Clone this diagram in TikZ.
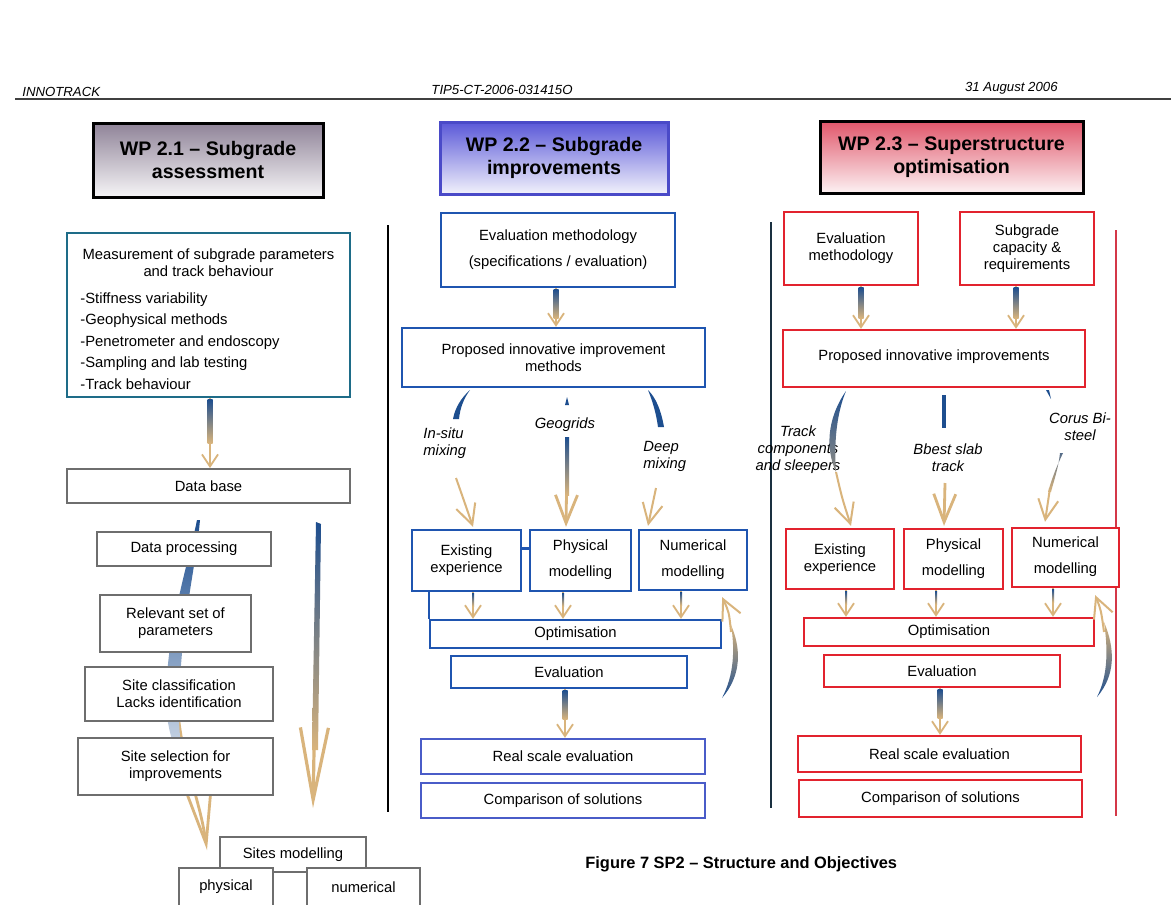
\documentclass[tikz,border=0pt]{standalone}
\usepackage{fontspec}
\setmainfont{Liberation Sans}
\usetikzlibrary{arrows.meta,calc}
\pgfdeclarelayer{bg}
\pgfsetlayers{bg,main}
\definecolor{navyb}{HTML}{1D4E8F}
\definecolor{tanc}{HTML}{D9B47C}
\definecolor{tealb}{HTML}{1E6C88}
\definecolor{grayb}{HTML}{6E6E6E}
\definecolor{blueb}{HTML}{1F55B0}
\definecolor{lblueb}{HTML}{4A5CC8}
\definecolor{t22bd}{HTML}{4A4AC8}
\definecolor{redb}{HTML}{E2232E}
\definecolor{redl}{HTML}{D43848}
\definecolor{sepd}{HTML}{1A3040}
\definecolor{t21top}{HTML}{8F8398}
\definecolor{t22top}{HTML}{5A58D8}
\definecolor{t23top}{HTML}{E0566A}
\newcommand\varrow[5]{%
  \coordinate (va) at ($(#1)+(#2,0)$);
  \coordinate (vb) at (va |- #3);
  \draw[conn] (va) -- (vb);
  \shade[top color=navyb, bottom color=tanc] ($(va)+(-#5,1)$) rectangle ($(va)+(#5,#4)$);
}
\newcommand\rb[2]{\raisebox{#1}{\begin{tabular}{@{}c@{}}#2\end{tabular}}}
\begin{document}
\begin{tikzpicture}[x=0.5pt,y=-0.5pt,
 body/.style={font=\fontsize{7.4}{8.5}\selectfont},
 box/.style={body, draw, line width=1pt, fill=white, inner sep=1pt, align=center},
 gbox/.style={box, draw=grayb},
 bbox/.style={box, draw=blueb, line width=1.2pt},
 lbox/.style={box, draw=lblueb, line width=1.2pt},
 rbox/.style={box, draw=redb, line width=1.2pt},
 title/.style={line width=1.5pt, font=\bfseries\fontsize{9.8}{11.5}\selectfont, align=center, inner sep=1pt},
 lab/.style={font=\itshape\fontsize{7.4}{8.5}\selectfont, align=center, inner sep=0pt},
 hdr/.style={font=\itshape\fontsize{6.6}{8}\selectfont, inner sep=0pt},
 conn/.style={draw=tanc, line width=0.9pt, -{Straight Barb[length=6pt,width=8pt]}},
 conn2/.style={draw=tanc, line width=1pt, -{Straight Barb[length=10pt,width=10pt]}},
 bigconn2/.style={draw=tanc, line width=1.4pt, -{Straight Barb[length=14pt,width=11pt]}},
 hugeconn/.style={draw=tanc, line width=1.6pt, -{Straight Barb[length=36pt,width=14pt]}},
 leftconn/.style={draw=tanc, line width=1.4pt, -{Straight Barb[length=26pt,width=12pt]}},
]
\useasboundingbox (0,0) rectangle (1171,904);
\begin{pgfonlayer}{bg}
\fill[white] (0,0) rectangle (1171,904);
\end{pgfonlayer}

% header
\node[hdr, anchor=west] (hl) at (22,92) {INNOTRACK};
\node[hdr] (hc) at (502,90) {TIP5-CT-2006-031415O};
\node[hdr, anchor=east] (hr) at (1058,88) {31 August 2006};
\draw[line width=0.6pt, black!75] (15,99) -- (1171,99);

% titles
\node[title, draw=black, top color=t21top, bottom color=white!92!t21top, minimum width=115pt, minimum height=37pt] (t21) at (208,160) {WP 2.1 – Subgrade\\assessment};
\node[title, draw=t22bd, top color=t22top, bottom color=white!92!t22top, minimum width=114pt, minimum height=36pt] (t22) at (554,158) {WP 2.2 – Subgrade\\improvements};
\node[title, draw=black, top color=t23top, bottom color=white!92!t23top, minimum width=131.5pt, minimum height=36pt] (t23) at (951.5,157) {WP 2.3 – Superstructure\\optimisation};

% separators
\draw[black, line width=0.8pt] (388,225) -- (388,812);
\draw[sepd, line width=0.8pt] (771,222) -- (771,808);
\draw[redl, line width=0.8pt] (1116,230) -- (1116,816);

% ---------- left column
\node[box, draw=tealb, line width=1.2pt, minimum width=141.5pt, minimum height=82pt] (meas) at (208.5,315) {};
\node[body, inner sep=0pt, align=center] (meast) at (208.5,263) {Measurement of subgrade parameters\\and track behaviour};
\node[body, inner sep=0pt, align=left, anchor=west, font=\fontsize{7.4}{10.75}\selectfont] (measl) at (80,341) {-Stiffness variability\\-Geophysical methods\\-Penetrometer and endoscopy\\-Sampling and lab testing\\-Track behaviour};
\node[gbox, minimum width=141.5pt, minimum height=17pt] (db) at (208.5,486) {\raisebox{-1pt}{Data base}};
\node[gbox, minimum width=87pt, minimum height=17pt] (dp) at (184,549) {\raisebox{-1.5pt}{Data processing}};
\node[gbox, minimum width=75.5pt, minimum height=28.5pt] (rs) at (175.5,623.5) {Relevant set of\\parameters};
\node[gbox, minimum width=94pt, minimum height=27pt] (sc) at (179,694) {Site classification\\Lacks identification};
\node[gbox, minimum width=97.5pt, minimum height=28.5pt] (ss) at (175.5,766.5) {Site selection for\\improvements};
\node[gbox, minimum width=73pt, minimum height=17.5pt] (sm) at (293,854.5) {\raisebox{-1.5pt}{Sites modelling}};
\node[gbox, minimum width=47pt, minimum height=19pt] (ph0) at (226,887) {physical};
\node[gbox, minimum width=56.5pt, minimum height=19pt] (nu0) at (363.5,887) {numerical};

\varrow{meas.south}{1.5}{db.north}{45}{2.5}

\coordinate (lt) at (207,850);
\coordinate (rbA) at (318,523);
\coordinate (rbB) at (313,808);
\begin{pgfonlayer}{bg}
\draw[leftconn] (sc.south) .. controls (185,770) and (200,800) .. (lt);
\shade[top color=navyb, middle color=navyb, bottom color=navyb!25] (197,520) .. controls (188,565) and (170,615) .. (166,690) .. controls (165,715) and (170,735) .. (174,745) -- (181,745) .. controls (178,720) and (178,700) .. (180,680) .. controls (184,610) and (196,565) .. (200,520) -- cycle;
\end{pgfonlayer}
\draw[hugeconn] (rbA) -- (rbB);
\shade[top color=navyb, middle color=navyb, bottom color=tanc] (316,522) -- (321,524) -- (318,750) -- (312,750) -- cycle;

% ---------- middle column
\node[bbox, minimum width=117pt, minimum height=37pt] (em2) at (558,250) {Evaluation methodology\\[4.5pt](specifications / evaluation)};
\node[bbox, minimum width=151.5pt, minimum height=29.5pt] (pi2) at (553.5,357.5) {Proposed innovative improvement\\methods};
\node[bbox, minimum width=54.5pt, minimum height=30.5pt] (ee2) at (466.5,560.5) {Existing\\experience};
\node[bbox, minimum width=50.5pt, minimum height=30.5pt] (pm2) at (580.5,560.5) {\rb{-1pt}{Physical\\[4.5pt]modelling}};
\node[bbox, minimum width=54pt, minimum height=30pt] (nm2) at (693,560) {\rb{-1pt}{Numerical\\[4.5pt]modelling}};
\node[bbox, minimum width=145.5pt, minimum height=14pt] (op2) at (575.5,634) {\raisebox{-1.5pt}{Optimisation}};
\node[bbox, minimum width=118pt, minimum height=16pt] (ev2) at (569,672) {\raisebox{-2.5pt}{Evaluation}};
\node[lbox, minimum width=142pt, minimum height=17.5pt] (rse2) at (563,756.5) {\raisebox{-1.5pt}{Real scale evaluation}};
\node[lbox, minimum width=142pt, minimum height=17.5pt] (cs2) at (563,800.5) {\raisebox{-1.5pt}{Comparison of solutions}};

\draw[blueb, line width=1.2pt] ($(ee2.east)+(0,-12)$) -- ($(pm2.west)+(0,-12)$);
\draw[blueb, line width=1.2pt] (ee2.south -| op2.west) -- (op2.north west);

\varrow{em2.south}{-2}{pi2.north}{30}{2.5}
\varrow{ee2.south}{6.5}{op2.north}{14}{1}
\varrow{pm2.south}{-17.5}{op2.north}{14}{1}
\varrow{nm2.south}{-12}{op2.north}{14}{1}
\varrow{ev2.south}{-4}{rse2.north}{30}{2.5}

\node[lab, align=left, anchor=west] (l1) at (423,443) {In-situ\\mixing};
\node[lab] (l2) at (565,425) {Geogrids};
\node[lab, align=left, anchor=west] (l3) at (643,456) {Deep\\mixing};

\fill[navyb] (470,390) .. controls (461,398) and (455,408) .. (453,419) -- (459,419) .. controls (460,408) and (464,398) .. (470,390) -- cycle;
\draw[conn2] (456,478) .. controls (462,495) .. ($(ee2.north)+(6.5,-2)$);
\fill[navyb] (565,405) -- (567,397) -- (569,405) -- cycle;
\draw[bigconn2] (567,460) -- ($(pm2.north)+(-14.5,-2)$);
\shade[top color=navyb, bottom color=tanc] (565,437) rectangle (569,495);
\fill[navyb] (648,390) .. controls (656,398) and (661,410) .. (664,427) -- (658,427) .. controls (656,412) and (652,400) .. (648,390) -- cycle;
\draw[conn2] (656,488) -- ($(nm2.north)+(-45,-3)$);
\shade[bottom color=navyb, top color=tanc] (722,698) .. controls (742,675) and (741,648) .. (731,625) .. controls (735,650) and (734,675) .. (722,698) -- cycle;
\draw[conn2] (731,632) .. controls (729,612) .. ($(nm2.south east)+(-26,6)$);

% ---------- right column
\node[rbox, minimum width=67pt, minimum height=36.5pt] (em3) at (851,248.5) {\rb{3pt}{Evaluation\\methodology}};
\node[rbox, minimum width=67pt, minimum height=36.5pt] (sc3) at (1027,248.5) {Subgrade\\capacity \&\\requirements};
\node[rbox, minimum width=151pt, minimum height=28.5pt] (pi3) at (934,358.5) {\raisebox{3pt}{Proposed innovative improvements}};
\node[rbox, minimum width=54pt, minimum height=30pt] (ee3) at (840,559) {Existing\\experience};
\node[rbox, minimum width=49.5pt, minimum height=30pt] (pm3) at (953.5,559) {\rb{-1pt}{Physical\\[4.5pt]modelling}};
\node[rbox, minimum width=53.5pt, minimum height=29.5pt] (nm3) at (1065.5,557.5) {\rb{-1pt}{Numerical\\[4.5pt]modelling}};
\node[rbox, minimum width=145pt, minimum height=14pt] (op3) at (949,632) {\raisebox{-1.5pt}{Optimisation}};
\node[rbox, minimum width=118pt, minimum height=16pt] (ev3) at (942,671) {\raisebox{-2.5pt}{Evaluation}};
\node[rbox, minimum width=141.5pt, minimum height=18pt] (rse3) at (939.5,754) {\raisebox{-1.5pt}{Real scale evaluation}};
\node[rbox, minimum width=141.5pt, minimum height=18.5pt] (cs3) at (940.5,798.5) {\raisebox{-1.5pt}{Comparison of solutions}};

\varrow{em3.south}{10}{pi3.north}{32}{2.5}
\varrow{sc3.south}{-11}{pi3.north}{32}{2.5}
\varrow{ee3.south}{6}{op3.north}{14}{1}
\varrow{pm3.south}{-17.5}{op3.north}{14}{1}
\varrow{nm3.south}{-12.5}{op3.north}{14}{1}
\varrow{ev3.south}{-2}{rse3.north}{30}{2.5}

\node[lab] (l4) at (798,450) {Track\\components\\and sleepers};
\node[lab] (l5) at (948,458) {Bbest slab\\track};
\node[lab] (l6) at (1080,427) {Corus Bi-\\steel};

\shade[top color=navyb, bottom color=tanc!60!navyb] (846,391) .. controls (826,420) and (826,450) .. (836,472) .. controls (834,445) and (836,415) .. (846,391) -- cycle;
\draw[conn2] (836,472) .. controls (842,498) .. ($(ee3.north)+(11,-2)$);
\fill[navyb] (942,395) rectangle (946,428);
\draw[bigconn2] (945,483) -- ($(pm3.north)+(-9.5,-2)$);
\fill[navyb] (1046,390) -- (1051,399) -- (1049,390) -- cycle;
\draw[conn2] (1050,488) -- ($(nm3.north)+(-20.5,-5)$);
\shade[top color=navyb!70!tanc, bottom color=tanc] (1060,453) .. controls (1058,470) and (1054,480) .. (1051,492) -- (1048,492) .. controls (1052,478) and (1056,468) .. (1063,453) -- cycle;
\shade[bottom color=navyb, top color=tanc] (1097,697) .. controls (1116,675) and (1115,648) .. (1104,622) .. controls (1108,650) and (1108,675) .. (1097,697) -- cycle;
\draw[conn2] (1104,632) .. controls (1101,610) .. ($(nm3.south east)+(-25,7)$);

% caption
\node[font=\bfseries\fontsize{8.2}{10}\selectfont, anchor=west, inner sep=0pt] (cap) at (585,864) {Figure 7 SP2 – Structure and Objectives};
\end{tikzpicture}
\end{document}
